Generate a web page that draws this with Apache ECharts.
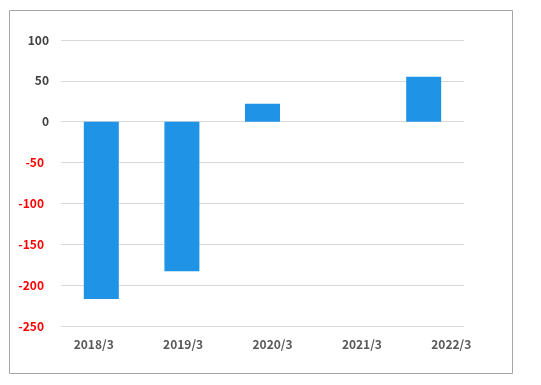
<!DOCTYPE html>
<html><head><meta charset="utf-8">
<script src="https://cdn.jsdelivr.net/npm/echarts@6/dist/echarts.min.js"></script>
<style>html,body{margin:0;padding:0;background:#fff}#c{width:541px;height:385px}</style>
</head><body><div id="c"></div>
<script>
const categories = ['2018/3','2019/3','2020/3','2021/3','2022/3'];
const values = [-217, -183, 22, 0, 55];
const yTicks = {min: -250, max: 100, step: 50};

const chart = echarts.init(document.getElementById('c'), null, {renderer:'canvas'});
const font = '"Noto Sans CJK JP", "Liberation Sans", sans-serif';
chart.setOption({
  animation: false,
  backgroundColor: '#fff',
  graphic: [{type:'rect', shape:{x:9.5,y:10.5,width:503,height:363}, style:{fill:'none', stroke:'#a6a6a6', lineWidth:1}, silent:true}],
  grid: [
    {left: 61, right: 77, top: 40, bottom: 59},
    {left: 49, right: 45, top: 40, bottom: 59}
  ],
  xAxis: [
    {type:'category', gridIndex:0, data: categories, axisLine:{show:false}, axisTick:{show:false}, axisLabel:{show:false}},
    {type:'category', gridIndex:1, data: categories, axisLine:{show:false}, axisTick:{show:false},
     axisLabel:{color:'#595959', fontSize:12, fontWeight:'bold', fontFamily:font, margin:12}}
  ],
  yAxis: [
    {type:'value', gridIndex:0, min: yTicks.min, max: yTicks.max, interval: yTicks.step,
     axisLine:{show:false}, axisTick:{show:false},
     splitLine:{lineStyle:{color:'#d9d9d9', width:1}},
     axisLabel:{margin:12, fontSize:12, fontWeight:'bold', fontFamily:font,
       formatter: v => v < 0 ? '{n|' + v + '}' : '{p|' + v + '}',
       rich:{
         n:{color:'#ff0000', fontSize:12, fontWeight:'bold', fontFamily:font, padding:[0,5,0,0]},
         p:{color:'#404040', fontSize:12, fontWeight:'bold', fontFamily:font}
       }}},
    {type:'value', gridIndex:1, min: yTicks.min, max: yTicks.max, show:false}
  ],
  series: [{
    type:'bar', xAxisIndex:0, yAxisIndex:0, data: values, barWidth: 35,
    itemStyle:{color:'#1f94e7'}
  }]
});
</script></body></html>
